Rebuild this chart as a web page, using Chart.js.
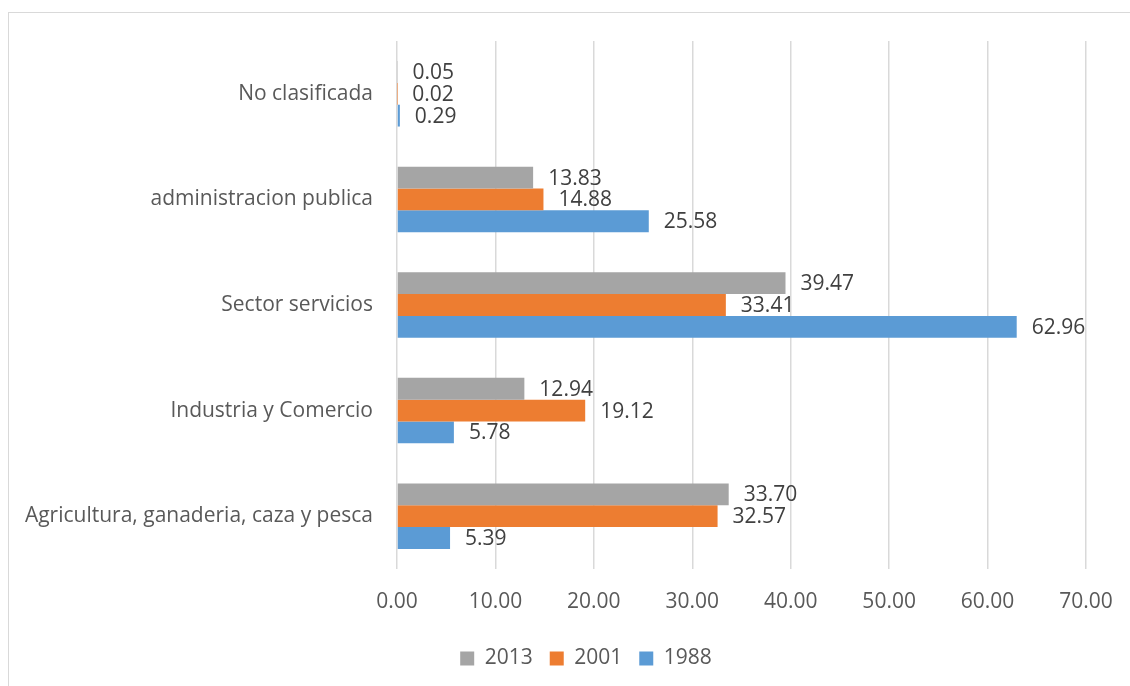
<!DOCTYPE html>
<html>
<head>
<meta charset="utf-8">
<script src="https://cdn.jsdelivr.net/npm/chart.js@4.4.1/dist/chart.umd.min.js"></script>
<style>
  html, body { margin: 0; padding: 0; background: #fff; overflow: hidden; }
  #frame {
    position: absolute; left: 8px; top: 12px;
    width: 1200px; height: 800px;
    border: 1.5px solid #d9d9d9; box-sizing: border-box;
  }
  #wrap { position: absolute; left: 0; top: 0; width: 1130px; height: 686px; }
</style>
</head>
<body>
<div id="frame"></div>
<div id="wrap"><canvas id="chart"></canvas></div>
<script>
const categories = [
  "No clasificada",
  "administracion publica",
  "Sector servicios",
  "Industria y Comercio",
  "Agricultura, ganaderia, caza y pesca"
];
const years = ["2013", "2001", "1988"];
const values2013 = [0.05, 13.83, 39.47, 12.94, 33.70];
const values2001 = [0.02, 14.88, 33.41, 19.12, 32.57];
const values1988 = [0.29, 25.58, 62.96, 5.78, 5.39];
const colors = ["#a5a5a5", "#ed7d31", "#5b9bd5"];

const FONT = "'Open Sans', 'DejaVu Sans', sans-serif";

// value labels to the right of each bar
const barLabels = {
  id: "barLabels",
  afterDatasetsDraw(chart) {
    const ctx = chart.ctx;
    ctx.save();
    ctx.font = "21px " + FONT;
    ctx.fillStyle = "#404040";
    ctx.textAlign = "left";
    ctx.textBaseline = "middle";
    chart.data.datasets.forEach((ds, i) => {
      chart.getDatasetMeta(i).data.forEach((bar, j) => {
        ctx.fillText(ds.data[j].toFixed(2), bar.x + 15, bar.y + 1);
      });
    });
    ctx.restore();
  }
};

// nudge the legend to the right, as in the original
const legendShift = {
  id: "legendShift",
  afterLayout(chart) {
    const lg = chart.legend;
    if (!lg) return;
    const dx = 43;
    lg.left += dx;
    lg.right += dx;
    (lg.legendHitBoxes || []).forEach(b => { b.left += dx; });
  }
};

new Chart(document.getElementById("chart"), {
  type: "bar",
  data: {
    labels: categories,
    datasets: [
      { label: years[0], data: values2013, backgroundColor: colors[0] },
      { label: years[1], data: values2001, backgroundColor: colors[1] },
      { label: years[2], data: values1988, backgroundColor: colors[2] }
    ]
  },
  options: {
    indexAxis: "y",
    responsive: true,
    maintainAspectRatio: false,
    animation: false,
    datasets: {
      bar: { categoryPercentage: 0.62, barPercentage: 1.0 }
    },
    layout: { autoPadding: false, padding: { top: 41, right: 44, left: 0, bottom: 7 } },
    scales: {
      x: {
        min: 0,
        max: 70,
        ticks: {
          stepSize: 10,
          padding: 20,
          color: "#595959",
          font: { family: FONT, size: 21 },
          callback: v => Number(v).toFixed(2)
        },
        grid: { color: "#d9d9d9", lineWidth: 1.5, drawTicks: false },
        border: { display: false },
        afterFit: s => { s.height = 62; s.paddingLeft = 0; s.paddingRight = 0; }
      },
      y: {
        ticks: {
          padding: 24,
          color: "#595959",
          font: { family: FONT, size: 21 }
        },
        grid: { display: false, drawTicks: false },
        border: { display: false },
        afterFit: s => { s.width = 397; }
      }
    },
    plugins: {
      legend: {
        position: "bottom",
        labels: {
          boxWidth: 14,
          boxHeight: 14,
          padding: 17,
          color: "#595959",
          font: { family: FONT, size: 21 }
        }
      },
      tooltip: { enabled: false }
    }
  },
  plugins: [barLabels, legendShift]
});
</script>
</body>
</html>
